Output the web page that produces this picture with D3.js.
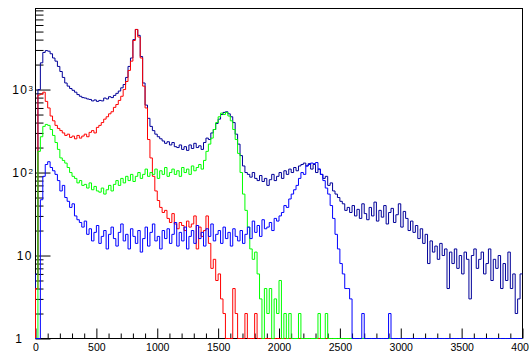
<!DOCTYPE html>
<html>
<head>
<meta charset="utf-8">
<script src="https://cdn.jsdelivr.net/npm/d3@7"></script>
<style>
  body { margin: 0; background: #fff; }
  text { font-family: "Liberation Sans", Arial, Helvetica, sans-serif; }
</style>
</head>
<body>
<svg id="chart" width="529" height="353"></svg>
<script>
// ---- data -------------------------------------------------------------
// 200 bins of width 20 covering 0..4000
const binWidth = 20;
const xRange = [0, 4000];
const yRange = [1, 9480];

const xMajorTicks = [0, 500, 1000, 1500, 2000, 2500, 3000, 3500, 4000];
const yMajorTicks = [1, 10, 100, 1000];
const yTickBase = ["1", "10", "10", "10"];
const yTickExp = ["", "", "2", "3"];

// total spectrum
const hAll = [
  6, 1000, 2100, 2800, 2950, 2900, 2700, 2400, 2200, 1900,
  1650, 1400, 1200, 1100, 1030, 980, 930, 870, 830, 800,
  790, 770, 760, 730, 750, 720, 740, 730, 790, 770,
  820, 800, 850, 900, 960, 1050, 1150, 1400, 1900, 2400,
  4000, 5300, 4500, 2500, 1200, 650, 450, 360, 320, 290,
  270, 255, 240, 225, 235, 215, 230, 205, 200, 215,
  190, 205, 185, 215, 195, 225, 200, 210, 190, 230,
  260, 250, 300, 330, 390, 440, 500, 530, 540, 510,
  470, 400, 290, 220, 160, 120, 100, 95, 88, 100,
  85, 80, 92, 78, 85, 70, 82, 95, 80, 90,
  100, 85, 105, 95, 110, 100, 115, 105, 120, 125,
  130, 120, 128, 110, 125, 100, 110, 95, 85, 90,
  70, 75, 60, 55, 50, 45, 42, 35, 38, 33,
  40, 30, 36, 28, 42, 32, 27, 38, 30, 44,
  26, 35, 29, 40, 24, 33, 37, 25, 31, 42,
  22, 34, 28, 20, 26, 19, 23, 16, 21, 14,
  18, 8, 15, 11, 13, 9, 14, 10, 12, 4,
  11, 8, 12, 7, 10, 6, 11, 9, 3, 10,
  12, 7, 9, 11, 6, 8, 12, 5, 9, 7,
  10, 4, 8, 5, 11, 4, 6, 2, 3, 6
];

// first peak component
const hRed = [
  4, 860, 880, 930, 720, 600, 480, 420, 370, 340,
  320, 300, 280, 290, 265, 275, 255, 280, 260, 275,
  290, 270, 305, 320, 300, 350, 370, 400, 440, 470,
  510, 540, 610, 660, 740, 830, 1000, 1250, 1700, 2200,
  3900, 5300, 4300, 2400, 1100, 600, 250, 150, 90, 60,
  46, 38, 33, 35, 28, 25, 32, 24, 21, 25,
  23, 20, 26, 22, 24, 30, 12, 22, 17, 20,
  30, 14, 7, 9, 5, 6, 3, 2, 0, 0,
  0, 4, 2, 0, 0, 0, 2, 0, 0, 0,
  2, 0, 0, 0, 0, 0, 0, 0, 0, 0,
  0, 0, 0, 0, 0, 0, 0, 0, 0, 0,
  0, 0, 0, 0, 0, 0, 0, 0, 0, 0,
  0, 0, 0, 0, 0, 0, 0, 0, 0, 0,
  0, 0, 0, 0, 0, 0, 0, 0, 0, 0,
  0, 0, 0, 0, 0, 0, 0, 0, 0, 0,
  0, 0, 0, 0, 0, 0, 0, 0, 0, 0,
  0, 0, 0, 0, 0, 0, 0, 0, 0, 0,
  0, 0, 0, 0, 0, 0, 0, 0, 0, 0,
  0, 0, 0, 0, 0, 0, 0, 0, 0, 0,
  0, 0, 0, 0, 0, 0, 0, 0, 0, 0
];

// second peak component
const hGreen = [
  0, 180, 270, 360, 380, 370, 330, 280, 230, 190,
  150, 140, 130, 115, 100, 90, 85, 75, 80, 70,
  72, 65, 75, 62, 68, 60, 58, 65, 55, 62,
  70, 60, 72, 80, 70, 85, 75, 90, 80, 95,
  78, 90, 100, 85, 95, 110, 90, 100, 95, 110,
  85, 105, 95, 115, 90, 100, 110, 95, 105, 90,
  115, 100, 110, 95, 120, 105, 115, 125, 110, 140,
  180, 220, 260, 330, 400, 470, 520, 500, 530, 480,
  420, 330, 250, 170, 100, 55, 35, 22, 12, 9,
  11, 6, 3, 0, 4, 2, 4, 0, 3, 2,
  5, 0, 2, 0, 2, 0, 0, 0, 2, 0,
  0, 0, 0, 0, 0, 0, 2, 0, 0, 2,
  0, 0, 0, 0, 0, 0, 0, 0, 0, 0,
  0, 0, 0, 0, 0, 0, 0, 0, 0, 0,
  0, 0, 0, 0, 0, 0, 0, 0, 0, 0,
  0, 0, 0, 0, 0, 0, 0, 0, 0, 0,
  0, 0, 0, 0, 0, 0, 0, 0, 0, 0,
  0, 0, 0, 0, 0, 0, 0, 0, 0, 0,
  0, 0, 0, 0, 0, 0, 0, 0, 0, 0,
  0, 0, 0, 0, 0, 0, 0, 0, 0, 0
];

// third peak component
const hBlue = [
  0, 0, 47, 90, 125, 135, 115, 105, 95, 80,
  60, 70, 50, 45, 38, 42, 30, 27, 25, 22,
  26, 18, 21, 15, 19, 23, 14, 17, 20, 12,
  18, 22, 16, 13, 19, 24, 15, 18, 12, 21,
  17, 14, 20, 11, 16, 22, 13, 19, 24, 15,
  17, 12, 20, 16, 21, 14, 18, 25, 13, 19,
  15, 22, 12, 17, 20, 14, 23, 16, 19, 13,
  21, 17, 24, 15, 18, 20, 14, 22, 16, 19,
  13, 21, 17, 15, 20, 14, 18, 22, 16, 26,
  19, 23, 17, 27, 21, 22, 25, 20, 28, 26,
  30, 33, 40, 38, 48, 55, 62, 70, 85, 100,
  95, 120, 125, 130, 128, 132, 110, 95, 80, 65,
  55, 40, 28, 18, 12, 8, 6, 4, 4, 3,
  0, 0, 0, 0, 2, 0, 0, 0, 0, 0,
  0, 0, 0, 0, 0, 2, 0, 0, 0, 0,
  0, 0, 0, 0, 0, 0, 0, 0, 0, 0,
  0, 0, 0, 0, 0, 0, 0, 0, 0, 0,
  0, 0, 0, 0, 0, 0, 0, 0, 0, 0,
  0, 0, 0, 0, 0, 0, 0, 0, 0, 0,
  0, 0, 0, 0, 0, 0, 0, 0, 0, 0
];

const seriesOrder = [
  { counts: hAll,   color: "#000099" },
  { counts: hRed,   color: "#ff0000" },
  { counts: hGreen, color: "#00ff00" },
  { counts: hBlue,  color: "#0000ff" }
];

// ---- layout -----------------------------------------------------------
const frame = { left: 35.5, right: 522.5, top: 8.5, bottom: 338.5 };

const svg = d3.select("#chart");
const x = d3.scaleLinear().domain(xRange).range([frame.left, frame.right]);
const y = d3.scaleLog().domain(yRange).range([frame.bottom, frame.top]);

svg.append("rect").attr("width", 529).attr("height", 353).attr("fill", "#fff");

// frame box
svg.append("rect")
  .attr("x", frame.left).attr("y", frame.top)
  .attr("width", frame.right - frame.left)
  .attr("height", frame.bottom - frame.top)
  .attr("fill", "none").attr("stroke", "#000").attr("stroke-width", 1);

// ---- x axis (ticks pointing inward) -------------------------------------
const xMinor = d3.range(100, 4000, 100).filter(v => v % 500 !== 0);

const gxMinor = svg.append("g").attr("transform", `translate(0,${frame.bottom})`)
  .call(d3.axisBottom(x).tickValues(xMinor).tickSize(-5).tickFormat(""));
const gx = svg.append("g").attr("transform", `translate(0,${frame.bottom})`)
  .call(d3.axisBottom(x).tickValues(xMajorTicks).tickSize(-10).tickPadding(5)
    .tickFormat(d3.format("d")));

[gx, gxMinor].forEach(g => {
  g.select(".domain").remove();
  g.selectAll("line").attr("stroke", "#000");
});
gx.selectAll("text")
  .attr("fill", "#000")
  .style("font-size", "10.5px");

// ---- y axis (log, ticks pointing inward) --------------------------------
const yMinor = [];
yMajorTicks.forEach(d => { for (let k = 2; k <= 9; k++) if (d * k <= yRange[1]) yMinor.push(d * k); });

const gyMinor = svg.append("g").attr("transform", `translate(${frame.left},0)`)
  .call(d3.axisLeft(y).tickValues(yMinor).tickSize(-8).tickFormat(""));
const gy = svg.append("g").attr("transform", `translate(${frame.left},0)`)
  .call(d3.axisLeft(y).tickValues(yMajorTicks).tickSize(-15).tickPadding(2.5)
    .tickFormat((d, i) => yTickBase[i]));

[gy, gyMinor].forEach(g => {
  g.select(".domain").remove();
  g.selectAll("line").attr("stroke", "#000");
});

gy.selectAll("text").each(function (d, i) {
  const t = d3.select(this);
  t.text(null)
    .attr("fill", "#000")
    .attr("dy", "0.36em")
    .style("font-size", "12px")
    .style("letter-spacing", yTickExp[i] ? "1.5px" : "1.5px");
  t.append("tspan").text(yTickBase[i]);
  if (yTickExp[i]) {
    t.append("tspan")
      .attr("dy", "-0.45em")
      .style("font-size", "8px")
      .style("letter-spacing", "0px")
      .text(yTickExp[i]);
  }
  if (d === 1) t.attr("x", -12);
});

// ---- histograms --------------------------------------------------------
svg.append("clipPath").attr("id", "plotClip")
  .append("rect")
  .attr("x", frame.left - 1).attr("y", frame.top - 1)
  .attr("width", frame.right - frame.left + 2)
  .attr("height", frame.bottom - frame.top + 2);

const stepLine = d3.line()
  .x(d => x(d[0]))
  .y(d => y(Math.max(d[1], yRange[0])))
  .curve(d3.curveStepAfter);

const plot = svg.append("g").attr("clip-path", "url(#plotClip)");

seriesOrder.forEach(s => {
  const pts = s.counts.map((c, i) => [i * binWidth, c]);
  pts.unshift([0, 0]);
  pts.push([xRange[1], s.counts[s.counts.length - 1]]);
  plot.append("path")
    .attr("d", stepLine(pts))
    .attr("fill", "none")
    .attr("stroke", s.color)
    .attr("stroke-width", 1);
});
</script>
</body>
</html>
